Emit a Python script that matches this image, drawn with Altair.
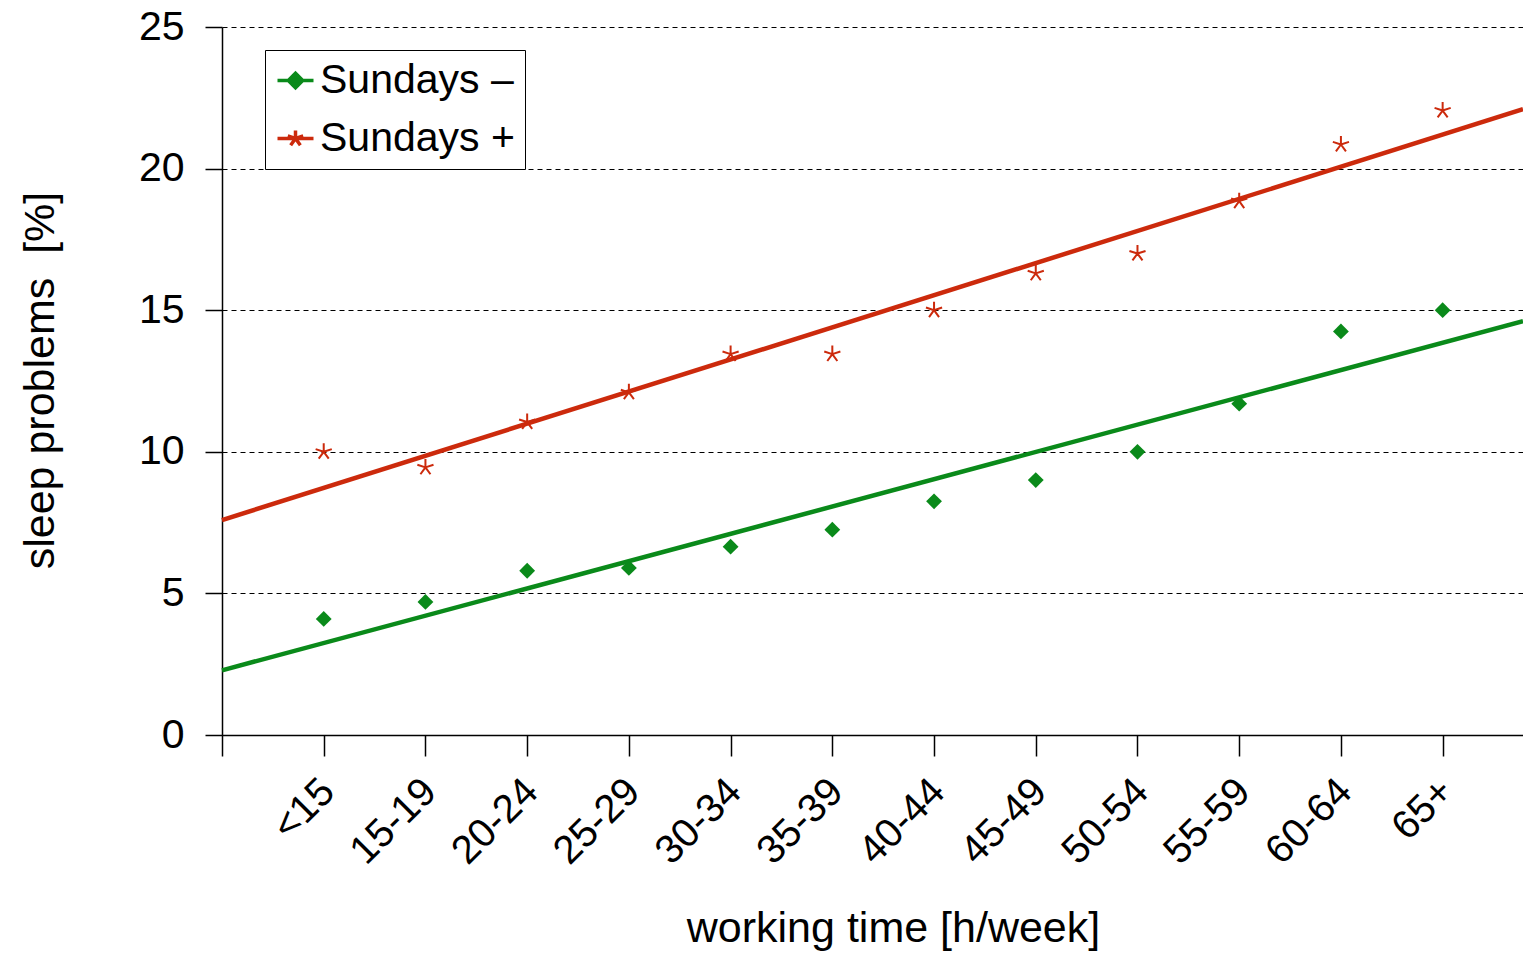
import json
import altair as alt
import pandas as pd

# ---- data ----
categories = ["<15", "15-19", "20-24", "25-29", "30-34", "35-39",
              "40-44", "45-49", "50-54", "55-59", "60-64", "65+"]
sundays_minus = [4.1, 4.7, 5.8, 5.9, 6.65, 7.25, 8.25, 9.0, 10.0, 11.7, 14.25, 15.0]
sundays_plus = [10.0, 9.45, 11.05, 12.1, 13.45, 13.45, 15.0, 16.3, 17.0, 18.85, 20.85, 22.05]
series_names = ["Sundays \u2013", "Sundays +"]
y_ticks = [0, 5, 10, 15, 20, 25]

colors = ["#0a8a1a", "#cc2a0c"]
FONT = "Liberation Sans"
X_MAX = 12.79

rows = []
for i, c in enumerate(categories):
    rows.append({"idx": i + 1, "cat": c, "value": sundays_minus[i], "series": series_names[0]})
    rows.append({"idx": i + 1, "cat": c, "value": sundays_plus[i], "series": series_names[1]})
df = pd.DataFrame(rows)

label_expr = "datum.value >= 1 ? " + json.dumps(categories) + "[datum.value - 1] : ''"

x_enc = alt.X(
    "idx:Q",
    scale=alt.Scale(domain=[0, X_MAX], nice=False, zero=False),
    axis=alt.Axis(
        values=list(range(0, 13)), labelExpr=label_expr,
        title="working time [h/week]", titleFont=FONT, titleFontSize=43,
        titleFontWeight="normal", titleColor="black",
        titleX=671, titleY=206, titleAlign="center", titleBaseline="alphabetic",
        labelFont=FONT, labelFontSize=40, labelColor="black",
        labelAngle=315, labelAlign="right", labelBaseline="middle",
        labelPadding=29, labelOffset=4, labelFlush=False, labelOverlap=False,
        tickSize=21, tickColor="black", tickWidth=1.5,
        domainColor="black", domainWidth=1.5, grid=False,
    ),
)
y_enc = alt.Y(
    "value:Q",
    scale=alt.Scale(domain=[0, 25], nice=False),
    axis=alt.Axis(
        values=y_ticks, title="sleep problems\u00a0\u00a0[%]", titleFont=FONT,
        titleFontSize=43, titleFontWeight="normal", titleColor="black",
        titleAngle=270, titleX=-182, titleY=353, titleAlign="center",
        titleBaseline="middle",
        labelFont=FONT, labelFontSize=41, labelColor="black", labelPadding=21,
        tickSize=17, tickColor="black", tickWidth=1.5,
        domainColor="black", domainWidth=1.5,
        grid=True, gridDash=[5, 4], gridColor="black", gridWidth=1, gridOpacity=1,
    ),
)

DIAMOND = "M0,-1L1,0L0,1L-1,0Z"
ASTERISK = "M0,0L0,-1M0,0L0.95,-0.31M0,0L-0.95,-0.31M0,0L0.59,0.81M0,0L-0.59,0.81"
LEG_G = "M-1,0L1,0M0,-0.4L0.4,0L0,0.4L-0.4,0Z"
LEG_R = ("M-1,0L1,0M0,0L0,-0.45M0,0L0.43,-0.14M0,0L-0.43,-0.14"
         "M0,0L0.27,0.37M0,0L-0.27,0.37")

layers = []
for i, name in enumerate(series_names):
    base = alt.Chart(df).transform_filter(alt.datum.series == name)
    line = base.transform_regression(
        "idx", "value", extent=[0, X_MAX]
    ).mark_line(color=colors[i], strokeWidth=4.5).encode(x=x_enc, y=y_enc)
    if i == 0:
        pts = base.mark_point(shape=DIAMOND, size=250, filled=True,
                              color=colors[i], opacity=1)
    else:
        pts = base.mark_point(shape=ASTERISK, size=289, filled=False,
                              color=colors[i], opacity=1, strokeWidth=2)
    layers += [line, pts.encode(x=x_enc, y=y_enc)]

leg = alt.Legend(
    title=None, orient="none", legendX=43, legendY=23,
    symbolSize=1296, symbolStrokeWidth=3.5, symbolOpacity=1,
    labelFont=FONT, labelFontSize=41, labelColor="black", labelOffset=4,
    labelLimit=0,
    padding=10, rowPadding=16, fillColor="white", strokeColor="black",
)
legend_layer = alt.Chart(df).transform_filter("datum.idx < 0").mark_point(
    opacity=1, filled=False, strokeWidth=3
).encode(
    shape=alt.Shape("series:N", scale=alt.Scale(domain=series_names, range=[LEG_G, LEG_R]), legend=leg),
    fill=alt.Fill("series:N", scale=alt.Scale(domain=series_names, range=colors), legend=leg),
    stroke=alt.Stroke("series:N", scale=alt.Scale(domain=series_names, range=colors), legend=leg),
)
layers.append(legend_layer)

chart = alt.layer(*layers).properties(
    width=1301, height=708,
    autosize=alt.AutoSizeParams(type="none"),
    padding={"left": 214, "top": 19, "right": 0, "bottom": 217},
    background="white",
).configure_view(stroke=None)

chart.save("out.html", embed_options={"renderer": "svg", "actions": False})
